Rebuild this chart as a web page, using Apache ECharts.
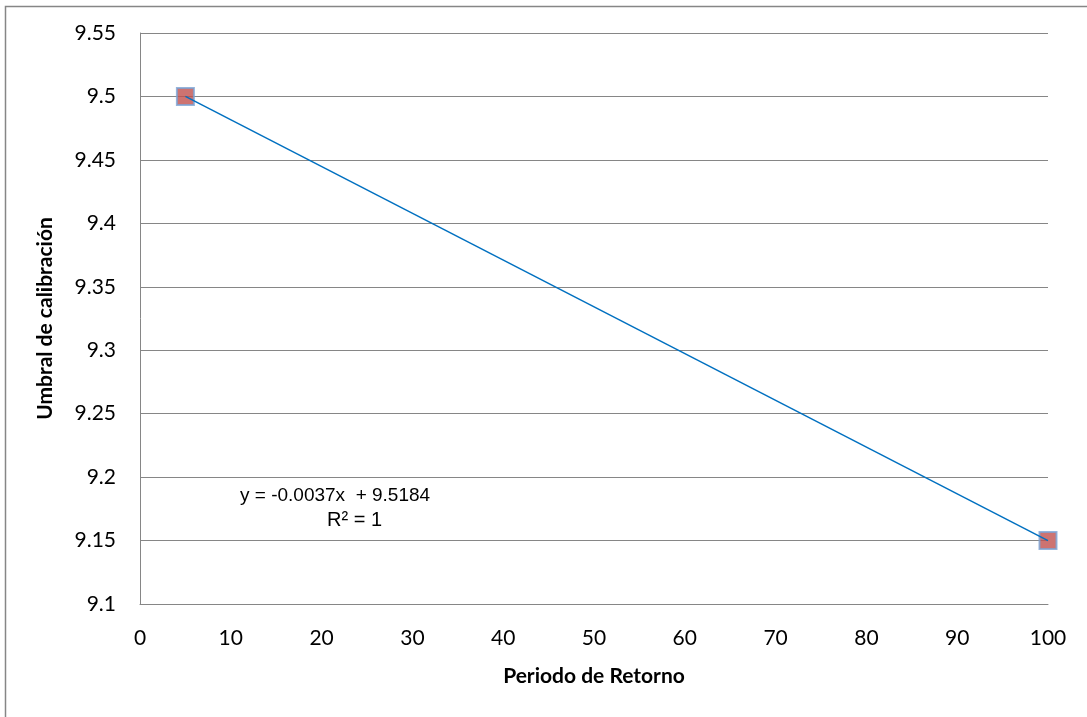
<!DOCTYPE html>
<html>
<head>
<meta charset="utf-8">
<script src="https://cdn.jsdelivr.net/npm/echarts@6/dist/echarts.min.js"></script>
<style>
  html, body { margin: 0; padding: 0; background: #ffffff; }
  #chart { width: 1087px; height: 717px; }
</style>
</head>
<body>
<div id="chart"></div>
<script>
// Return period (years) and calibration threshold
const periods = [5, 100];
const thresholds = [9.5, 9.15];

// Axis ticks
const xTicks = [0, 10, 20, 30, 40, 50, 60, 70, 80, 90, 100];
const yTicks = [9.1, 9.15, 9.2, 9.25, 9.3, 9.35, 9.4, 9.45, 9.5, 9.55];

// Trendline annotation
const equationText = 'y = -0.0037x  + 9.5184';
const r2Text = 'R² = 1';

const points = periods.map((p, i) => [p, thresholds[i]]);

const chart = echarts.init(document.getElementById('chart'), null, { renderer: 'canvas' });

const labelFont = { fontFamily: 'Lato, "Open Sans", sans-serif', fontSize: 21, color: '#000000' };
const titleFont = { fontFamily: 'Lato, "Open Sans", sans-serif', fontSize: 21, fontWeight: 'bold', color: '#000000' };

chart.setOption({
  animation: false,
  backgroundColor: '#ffffff',
  grid: { left: 140, top: 33, width: 908, height: 571, containLabel: false },
  xAxis: {
    type: 'value',
    min: xTicks[0],
    max: xTicks[xTicks.length - 1],
    interval: xTicks[1] - xTicks[0],
    name: 'Periodo de Retorno',
    nameLocation: 'middle',
    nameGap: 62,
    nameTextStyle: titleFont,
    axisLine: { show: true, lineStyle: { color: '#868686', width: 1 } },
    axisTick: { show: false },
    splitLine: { show: false },
    axisLabel: Object.assign({ margin: 24 }, labelFont)
  },
  yAxis: {
    type: 'value',
    min: yTicks[0],
    max: yTicks[yTicks.length - 1],
    interval: 0.05,
    name: 'Umbral de calibración',
    nameLocation: 'middle',
    nameGap: 84,
    nameTextStyle: titleFont,
    axisLine: { show: true, lineStyle: { color: '#868686', width: 1 } },
    axisTick: { show: false },
    splitLine: { show: true, lineStyle: { color: '#868686', width: 1 } },
    axisLabel: Object.assign({
      margin: 24,
      formatter: v => String(parseFloat(v.toFixed(2)))
    }, labelFont)
  },
  graphic: [
    {
      type: 'rect',
      shape: { x: 5.5, y: 6.5, width: 1100, height: 720 },
      style: { fill: 'none', stroke: '#868686', lineWidth: 1.5 },
      silent: true,
      z: -10
    },
    {
      type: 'text',
      left: 240,
      top: 486,
      style: { text: equationText, font: '19px "Liberation Sans", Arial, sans-serif', fill: '#000000' }
    },
    {
      type: 'text',
      left: 327,
      top: 510,
      style: { text: r2Text, font: '20px "Liberation Sans", Arial, sans-serif', fill: '#000000' }
    }
  ],
  series: [
    {
      name: 'Umbral',
      type: 'scatter',
      data: points,
      symbol: 'rect',
      symbolSize: 17,
      itemStyle: { color: '#C0504D', borderColor: '#7BA2D4', borderWidth: 2 },
      z: 2
    },
    {
      name: 'Tendencia',
      type: 'line',
      data: points,
      showSymbol: false,
      symbol: 'none',
      lineStyle: { color: '#0070C0', width: 1.5 },
      z: 3
    }
  ]
});
</script>
</body>
</html>
